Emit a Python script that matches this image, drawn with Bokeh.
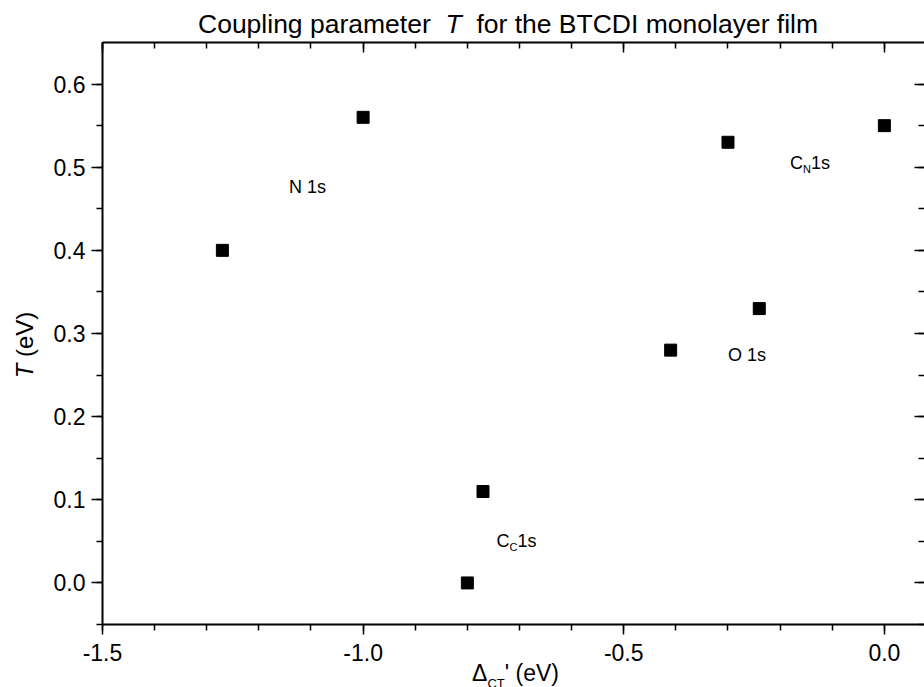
from bokeh.plotting import figure
from bokeh.models import (LinearAxis, SingleIntervalTicker, PrintfTickFormatter,
                          Range1d, ColumnDataSource, Div)
from bokeh.layouts import column, row
from bokeh.core.properties import value
from bokeh.embed import file_html
from bokeh.resources import INLINE

# ---- data ----
delta_ct = [-1.27, -1.00, -0.80, -0.77, -0.41, -0.30, -0.24, 0.00]
coupling_t = [0.40, 0.56, 0.00, 0.11, 0.28, 0.53, 0.33, 0.55]

# plain annotations (text, x, y)
ann_text = ["N 1s", "O 1s"]
ann_x = [-1.142, -0.300]
ann_y = [0.476, 0.274]

# subscripted annotations: main letter, subscript, rest
sub_main = ["C", "C"]
sub_sub = ["N", "C"]
sub_rest = ["1s", "1s"]
sub_x = [-0.181, -0.744]
sub_y = [0.505, 0.051]

title_html = "Coupling parameter&nbsp; <i>T</i>&nbsp; for the BTCDI monolayer film"
xlabel_html = "&Delta;<span style=\"font-size:13px; position:relative; top:7px\">CT</span>' (eV)"
ylabel_html = "<i>T</i> (eV)"

x_ticks_interval = 0.5
y_ticks_interval = 0.1

FONT = "Liberation Sans"
FIG_H = 631

p = figure(width=884, height=FIG_H,
           x_range=Range1d(-1.5, 0.077), y_range=Range1d(-0.05, 0.65),
           output_backend="svg", toolbar_location=None,
           min_border_left=62, min_border_right=0,
           min_border_top=2, min_border_bottom=47, margin=0)
p.outline_line_color = None
p.grid.visible = False
p.background_fill_color = "white"
p.border_fill_color = "white"

xt = SingleIntervalTicker(interval=x_ticks_interval, num_minor_ticks=5)
yt = SingleIntervalTicker(interval=y_ticks_interval, num_minor_ticks=2)


def style_axis(ax, inward, labels):
    ax.axis_line_width = 2
    ax.axis_line_color = "black"
    ax.major_tick_line_width = 1.5
    ax.minor_tick_line_width = 1.5
    ax.major_tick_line_color = "black"
    ax.minor_tick_line_color = "black"
    if inward:
        ax.major_tick_in = 10
        ax.major_tick_out = 0
        ax.minor_tick_in = 6
        ax.minor_tick_out = 0
    else:
        ax.major_tick_in = 0
        ax.major_tick_out = 11
        ax.minor_tick_in = 0
        ax.minor_tick_out = 6
    if labels:
        ax.major_label_text_font = FONT
        ax.major_label_text_font_size = "23px"
        ax.major_label_text_color = "black"
        ax.major_label_standoff = 6
        ax.formatter = PrintfTickFormatter(format="%.1f")
    else:
        ax.major_label_text_font_size = "1px"
        ax.major_label_standoff = 0
        ax.formatter = PrintfTickFormatter(format="")


xa = p.xaxis[0]
xa.ticker = xt
style_axis(xa, False, True)
xa.major_tick_out = 10
xa.major_label_standoff = 9
ya = p.yaxis[0]
ya.ticker = yt
style_axis(ya, False, True)

top = LinearAxis(ticker=xt)
style_axis(top, True, False)
p.add_layout(top, "above")
right = LinearAxis(ticker=yt)
style_axis(right, True, False)
right.axis_line_color = None
p.add_layout(right, "right")

src = ColumnDataSource(dict(x=delta_ct, y=coupling_t))
p.scatter("x", "y", source=src, marker="square", size=12,
          fill_color="black", line_color="black")

# annotations inside plot
p.text(x=ann_x, y=ann_y, text=ann_text, text_font=value(FONT),
       text_font_size="18px", text_baseline="middle", text_align="left",
       text_color="black")
p.text(x=sub_x, y=sub_y, text=sub_main, text_font=value(FONT),
       text_font_size="18px", text_baseline="middle", text_align="left",
       text_color="black")
p.text(x=sub_x, y=sub_y, text=sub_sub, text_font=value(FONT),
       text_font_size="11px", text_baseline="middle", text_align="left",
       text_color="black", x_offset=13, y_offset=6)
p.text(x=sub_x, y=sub_y, text=sub_rest, text_font=value(FONT),
       text_font_size="18px", text_baseline="middle", text_align="left",
       text_color="black", x_offset=21)

base = "font-family:'Liberation Sans'; color:black; white-space:nowrap; position:absolute;"

title_div = Div(
    text=f"<div style=\"position:relative; width:924px; height:40px;\">"
         f"<div style=\"{base} font-size:26.5px; left:198px; top:24px; "
         f"transform:translateY(-50%); line-height:30px;\">{title_html}</div></div>",
    width=924, height=40, margin=0, styles={"overflow": "visible"})

ylab_div = Div(
    text=f"<div style=\"position:relative; width:40px; height:{FIG_H}px;\">"
         f"<div style=\"{base} font-size:24px; left:25px; top:305px; "
         f"line-height:28px; transform:translate(-50%,-50%) rotate(-90deg);\">"
         f"{ylabel_html}</div></div>",
    width=40, height=FIG_H, margin=0, styles={"overflow": "visible"})

xlab_div = Div(
    text=f"<div style=\"position:relative; width:924px; height:16px;\">"
         f"<div style=\"{base} font-size:23px; left:472px; top:4px; "
         f"line-height:24px; transform:translateY(-50%);\">{xlabel_html}</div></div>",
    width=924, height=16, margin=0, styles={"overflow": "visible"})

layout = column(title_div, row(ylab_div, p, spacing=0, margin=0), xlab_div,
                spacing=0, margin=0)

open("out.html", "w").write(file_html(layout, INLINE))
